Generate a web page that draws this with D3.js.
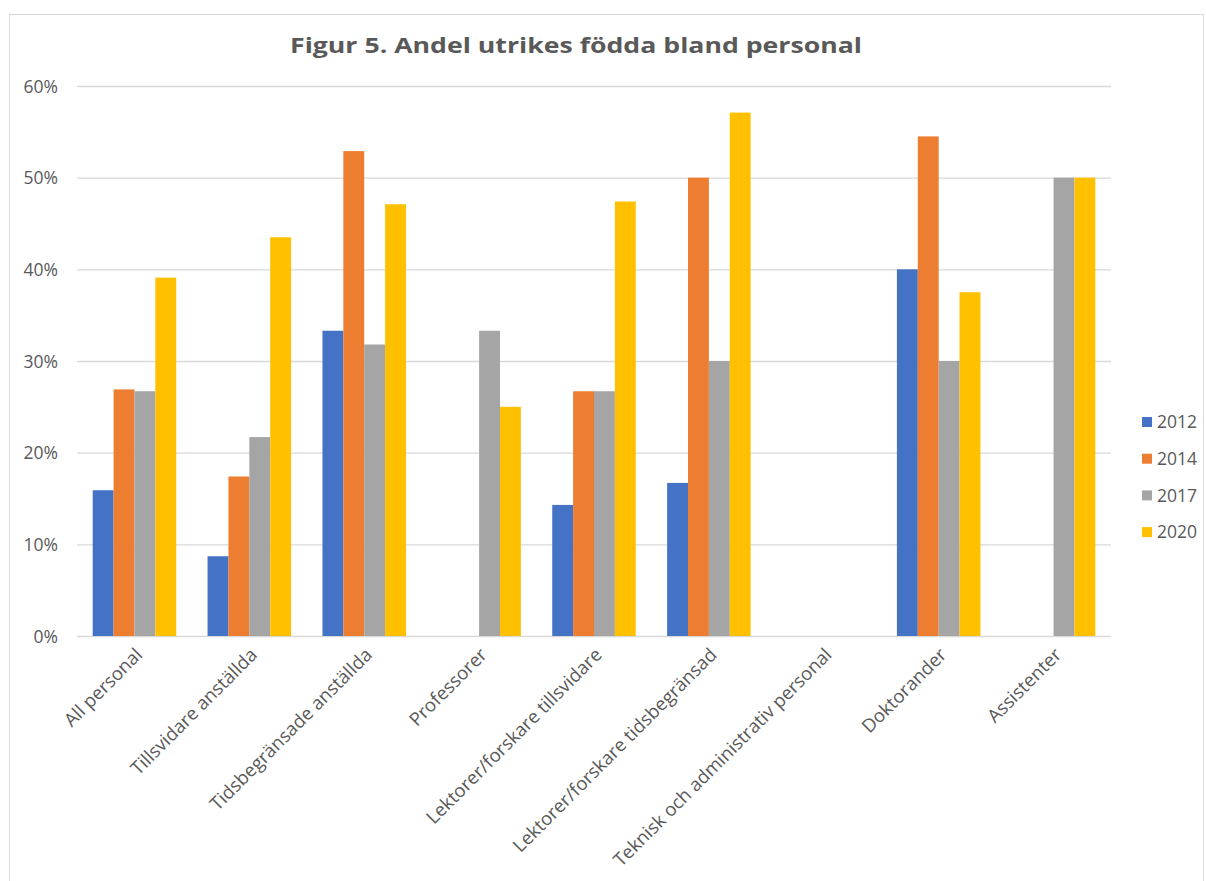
<!DOCTYPE html>
<html>
<head>
<meta charset="utf-8">
<script src="https://cdn.jsdelivr.net/npm/d3@7"></script>
<style>
  html, body { margin: 0; padding: 0; background: #fff; }
  svg { display: block; }
</style>
</head>
<body>
<svg id="chart" width="1206" height="881"></svg>
<script>
const title = "Figur 5. Andel utrikes födda bland personal";
const categories = [
  "All personal",
  "Tillsvidare anställda",
  "Tidsbegränsade anställda",
  "Professorer",
  "Lektorer/forskare tillsvidare",
  "Lektorer/forskare tidsbegränsad",
  "Teknisk och administrativ personal",
  "Doktorander",
  "Assistenter"
];
const seriesNames = ["2012", "2014", "2017", "2020"];
const values2012 = [0.159, 0.087, 0.333, null, 0.143, 0.167, null, 0.40, null];
const values2014 = [0.269, 0.174, 0.529, null, 0.267, 0.50, null, 0.545, null];
const values2017 = [0.267, 0.217, 0.318, 0.333, 0.267, 0.30, null, 0.30, 0.50];
const values2020 = [0.391, 0.435, 0.471, 0.25, 0.474, 0.571, null, 0.375, 0.50];
const yTicks = [0, 0.1, 0.2, 0.3, 0.4, 0.5, 0.6];
const colors = ["#4472C4", "#ED7D31", "#A5A5A5", "#FFC000"];

const seriesValues = [values2012, values2014, values2017, values2020];

const svg = d3.select("#chart");
const margin = { left: 77, right: 1111, top: 86, bottom: 636 };
const FONT = "'Open Sans', sans-serif";

// chart frame
svg.append("rect")
  .attr("x", 9.5).attr("y", 14.5)
  .attr("width", 1194).attr("height", 880)
  .attr("fill", "#fff")
  .attr("stroke", "#d9d9d9").attr("stroke-width", 1);

const x0 = d3.scaleBand()
  .domain(categories)
  .range([margin.left, margin.right])
  .paddingInner(0.273)
  .paddingOuter(0.1365);

const x1 = d3.scaleBand()
  .domain(seriesNames)
  .range([0, x0.bandwidth()])
  .padding(0);

const y = d3.scaleLinear()
  .domain([0, 0.6])
  .range([margin.bottom, margin.top]);

// gridlines
const grid = svg.append("g")
  .attr("transform", `translate(${margin.left},0)`)
  .call(d3.axisLeft(y).tickValues(yTicks).tickSize(-(margin.right - margin.left)).tickFormat(""));
grid.select(".domain").remove();
grid.selectAll("line").attr("stroke", "#d9d9d9").attr("stroke-width", 1.3);

// y axis labels
const yAxis = svg.append("g")
  .attr("transform", `translate(${margin.left - 19},0)`)
  .call(d3.axisLeft(y).tickValues(yTicks).tickSize(0).tickPadding(0).tickFormat(d3.format(".0%")));
yAxis.select(".domain").remove();
yAxis.selectAll("text")
  .attr("font-family", FONT)
  .attr("font-size", 17.5)
  .attr("fill", "#595959")
  .attr("dy", "0.35em");

// bars
const groups = svg.append("g").selectAll("g")
  .data(categories)
  .join("g")
  .attr("transform", d => `translate(${x0(d)},0)`);

groups.selectAll("rect")
  .data((d, i) => seriesNames.map((s, j) => ({ s, v: seriesValues[j][i], c: colors[j] })))
  .join("rect")
  .filter(d => d.v !== null)
  .attr("x", d => x1(d.s))
  .attr("width", x1.bandwidth())
  .attr("y", d => y(d.v))
  .attr("height", d => y(0) - y(d.v))
  .attr("fill", d => d.c);

// x labels
svg.append("g").selectAll("text")
  .data(categories)
  .join("text")
  .attr("transform", d => `translate(${x0(d) + x0.bandwidth() / 2 + 9},${margin.bottom + 20}) rotate(-45)`)
  .attr("text-anchor", "end")
  .attr("font-family", FONT)
  .attr("font-size", 18.5)
  .attr("fill", "#595959")
  .text(d => d);

// title
svg.append("text")
  .attr("x", 576).attr("y", 53)
  .attr("text-anchor", "middle")
  .attr("font-family", FONT)
  .attr("font-weight", "bold")
  .attr("font-size", 22)
  .attr("textLength", 572)
  .attr("lengthAdjust", "spacingAndGlyphs")
  .attr("fill", "#595959")
  .text(title);

// legend
const legend = svg.append("g").selectAll("g")
  .data(seriesNames)
  .join("g")
  .attr("transform", (d, i) => `translate(1142,${422 + i * 36.7})`);
legend.append("rect")
  .attr("x", 0).attr("y", -5)
  .attr("width", 10).attr("height", 10)
  .attr("fill", (d, i) => colors[i]);
legend.append("text")
  .attr("x", 15).attr("y", 0)
  .attr("dy", "0.35em")
  .attr("font-family", FONT)
  .attr("font-size", 17.5)
  .attr("fill", "#595959")
  .text(d => d);
</script>
</body>
</html>
